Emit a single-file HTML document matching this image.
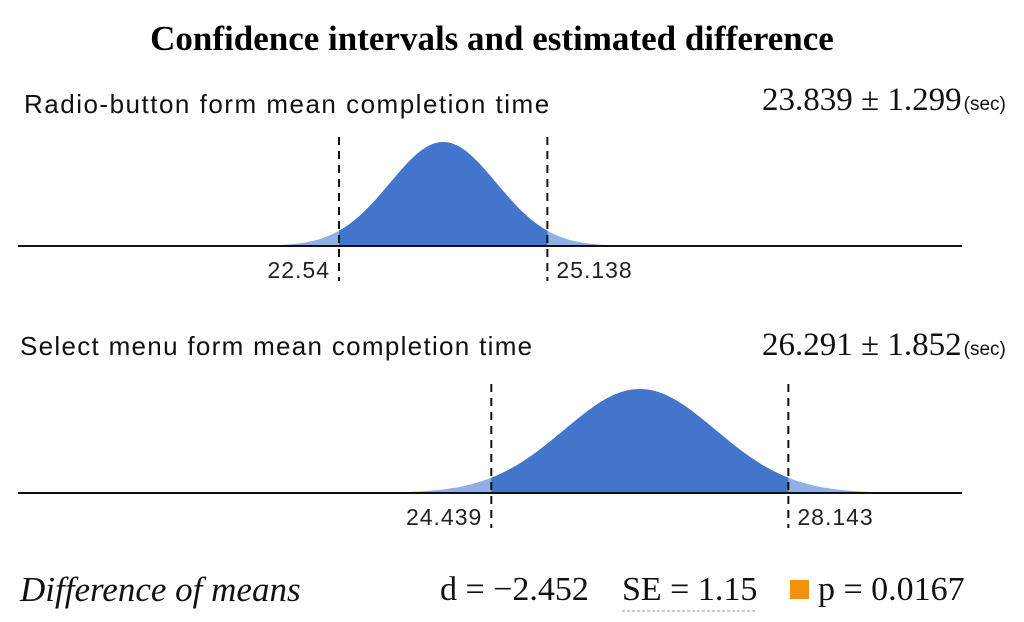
<!DOCTYPE html>
<html><head><meta charset="utf-8"><style>
body{margin:0;background:#fff;width:1024px;height:622px;overflow:hidden}
svg{display:block}
.serif{font-family:"Liberation Serif",serif}
.sans{font-family:"Liberation Sans",sans-serif}
</style></head><body>
<svg id="chart" width="1024" height="622">
<text class="serif" x="492" y="50" text-anchor="middle" font-size="35" font-weight="bold" fill="#000">Confidence intervals and estimated difference</text>
<text class="sans" x="24" y="113" font-size="26" letter-spacing="1.5" fill="#111">Radio-button form mean completion time</text>
<text class="serif" x="762" y="110" font-size="33" fill="#111">23.839 ± 1.299<tspan font-size="19" class="sans" dx="2">(sec)</tspan></text>
<text class="sans" x="20" y="355" font-size="26" letter-spacing="1.3" fill="#111">Select menu form mean completion  time</text>
<text class="serif" x="762" y="355" font-size="33" fill="#111">26.291 ± 1.852<tspan font-size="19" class="sans" dx="2">(sec)</tspan></text>
<g id="plots"></g>
<text class="serif" x="20" y="601" font-size="35" font-style="italic" fill="#111">Difference of means</text>
<text class="serif" x="440" y="600" font-size="34" fill="#111">d = −2.452</text>
<text class="serif" x="622" y="600" font-size="34" fill="#111">SE = 1.15</text>
<line x1="622" y1="611" x2="757" y2="611" stroke="#aaa" stroke-width="1.2" stroke-dasharray="3,2"/>
<rect x="790" y="580" width="19" height="19" fill="#f0930a"/>
<text class="serif" x="818" y="600" font-size="34" fill="#111">p = 0.0167</text>
</svg>
<script>
const seriesNames = ["radio-button", "select-menu"];
const means = [23.839, 26.291];
const lowerBounds = [22.54, 24.439];
const upperBounds = [25.138, 28.143];
const lowerLabels = ["22.54", "24.439"];
const upperLabels = ["25.138", "28.143"];

const NS = "http://www.w3.org/2000/svg";
const g = document.getElementById("plots");
const baseY = [246, 493];
const peakH = 104;
function xScale(v){ return 339 + (v - 22.54) * 80.2; }
function mk(tag, attrs){ const e=document.createElementNS(NS,tag); for(const k in attrs) e.setAttribute(k,attrs[k]); g.appendChild(e); return e; }

for (let i=0;i<means.length;i++){
  const by = baseY[i];
  const sigma = (upperBounds[i]-lowerBounds[i])/2/1.96;
  const yOf = v => by - peakH*Math.exp(-0.5*Math.pow((v-means[i])/sigma,2));
  function curvePath(a,b){
    let d = "M"+xScale(a).toFixed(1)+","+by;
    const n=120;
    for(let k=0;k<=n;k++){ const v=a+(b-a)*k/n; d+=" L"+xScale(v).toFixed(1)+","+yOf(v).toFixed(1); }
    return d+" L"+xScale(b).toFixed(1)+","+by+" Z";
  }
  const tail = mk("path",{d:curvePath(means[i]-4*sigma, means[i]+4*sigma), fill:"#8fb0e6"});
  
  
  const body = mk("path",{d:curvePath(lowerBounds[i], upperBounds[i]), fill:"#4475cc"});
  
  
  const axis = mk("line",{x1:18,x2:962,y1:by,y2:by,stroke:"#111","stroke-width":2});
  
  
  [[lowerBounds[i],lowerLabels[i],"end",-9],[upperBounds[i],upperLabels[i],"start",9]].forEach(([v,lab,anc,dx],j)=>{
    const x = xScale(v);
    const ln = mk("line",{x1:x,x2:x,y1:by-109,y2:by+35,stroke:"#111","stroke-width":2,"stroke-dasharray":"8,6"});
    
    
    const t = mk("text",{x:x+dx,y:by+32,"text-anchor":anc,"font-size":23,"letter-spacing":1,fill:"#222","font-family":"Liberation Sans, sans-serif"});
    t.textContent = lab;
    
    
  });
}
</script>
</body></html>
